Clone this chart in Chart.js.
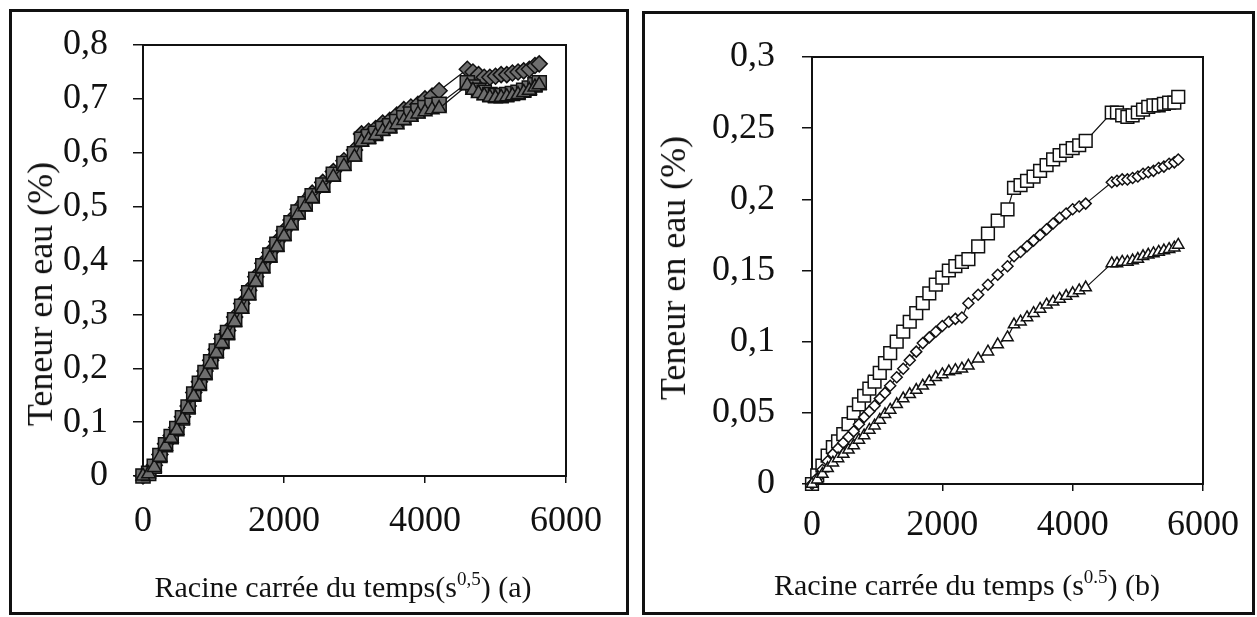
<!DOCTYPE html>
<html>
<head>
<meta charset="utf-8">
<script src="https://cdn.jsdelivr.net/npm/chart.js@4.4.1/dist/chart.umd.min.js"></script>
<style>
  body { margin: 0; background: #fff; width: 1257px; height: 617px; overflow: hidden; position: relative; font-family: 'Liberation Serif', serif; color: #111; }
  .frame { position: absolute; border: 3px solid #111; box-sizing: border-box; }
  canvas { position: absolute; top: 0; }
  .ytitle { position: absolute; font-family: 'Liberation Serif', serif; font-size: 36px; white-space: nowrap; transform: translate(-50%, -50%) rotate(-90deg); }
  .xtitle { position: absolute; font-family: 'Liberation Serif', serif; font-size: 30px; line-height: 30px; white-space: nowrap; transform: translateX(-50%); }
  .xtitle sup { font-size: 19px; line-height: 0; vertical-align: baseline; position: relative; top: -12px; }
</style>
</head>
<body>
<div class="frame" style="left:9px;top:9px;width:620px;height:606px"></div>
<div class="frame" style="left:642px;top:11px;width:613px;height:604px"></div>
<canvas id="chartA" width="628" height="617" style="left:0"></canvas>
<canvas id="chartB" width="617" height="617" style="left:640px"></canvas>
<div class="ytitle" style="left:40px;top:294px">Teneur en eau (%)</div>
<div class="ytitle" style="left:673px;top:268px">Teneur en eau (%)</div>
<div class="xtitle" style="left:343px;top:572px">Racine carrée du temps(s<sup>0,5</sup>) (a)</div>
<div class="xtitle" style="left:967px;top:570px">Racine carrée du temps (s<sup>0.5</sup>) (b)</div>
<script>
const sqrtTime = [0, 80, 160, 240, 320, 400, 480, 560, 640, 720, 800, 880, 960, 1040, 1120, 1200,
  1300, 1400, 1500, 1600, 1700, 1800, 1900, 2000, 2100, 2200, 2300, 2400, 2550, 2700, 2850, 3000,
  3100, 3200, 3300, 3400, 3500, 3600, 3700, 3800, 3900, 4000, 4100, 4200, 4600, 4680, 4760, 4840,
  4920, 5000, 5080, 5160, 5240, 5320, 5400, 5480, 5560, 5620];

// panel (a)
const aDiamond = [0, 0.005, 0.02, 0.04, 0.06, 0.075, 0.09, 0.11, 0.13, 0.155,
  0.175, 0.195, 0.215, 0.235, 0.255, 0.27, 0.295, 0.32, 0.345, 0.37,
  0.395, 0.415, 0.435, 0.455, 0.475, 0.495, 0.51, 0.525, 0.545, 0.565,
  0.585, 0.605, 0.635, 0.64, 0.645, 0.655, 0.66, 0.67, 0.68, 0.685,
  0.69, 0.7, 0.705, 0.715, 0.755, 0.75, 0.745, 0.74, 0.74, 0.742,
  0.745, 0.745, 0.748, 0.75, 0.752, 0.755, 0.762, 0.765];
const aSquare = [0, 0.005, 0.018, 0.038, 0.058, 0.073, 0.088, 0.108, 0.128, 0.152,
  0.172, 0.192, 0.212, 0.232, 0.25, 0.266, 0.29, 0.315, 0.34, 0.365,
  0.39, 0.41, 0.43, 0.45, 0.47, 0.49, 0.505, 0.52, 0.54, 0.56,
  0.58, 0.598, 0.625, 0.63, 0.636, 0.645, 0.65, 0.658, 0.665, 0.672,
  0.678, 0.684, 0.688, 0.69, 0.73, 0.722, 0.716, 0.712, 0.708, 0.706,
  0.706, 0.708, 0.71, 0.712, 0.716, 0.72, 0.726, 0.73];
const aTriangle = [0, 0.004, 0.016, 0.035, 0.055, 0.07, 0.085, 0.105, 0.125, 0.148,
  0.168, 0.188, 0.208, 0.228, 0.246, 0.262, 0.286, 0.31, 0.335, 0.36,
  0.385, 0.405, 0.425, 0.445, 0.465, 0.485, 0.5, 0.515, 0.535, 0.555,
  0.575, 0.592, 0.62, 0.625, 0.632, 0.64, 0.645, 0.652, 0.66, 0.666,
  0.672, 0.676, 0.68, 0.682, 0.725, 0.716, 0.71, 0.706, 0.703, 0.702,
  0.703, 0.704, 0.706, 0.708, 0.712, 0.716, 0.722, 0.726];

// panel (b)
const bSquare = [0, 0.006, 0.013, 0.02, 0.026, 0.03, 0.035, 0.042, 0.05, 0.056,
  0.062, 0.067, 0.072, 0.078, 0.085, 0.092, 0.1, 0.107, 0.114, 0.12,
  0.127, 0.134, 0.14, 0.145, 0.15, 0.153, 0.156, 0.158, 0.167, 0.176,
  0.185, 0.193, 0.208, 0.21, 0.213, 0.216, 0.22, 0.224, 0.228, 0.231,
  0.234, 0.236, 0.238, 0.241, 0.261, 0.261, 0.259, 0.258, 0.259, 0.261,
  0.263, 0.265, 0.266, 0.266, 0.267, 0.268, 0.268, 0.272];
const bDiamond = [0, 0.004, 0.01, 0.016, 0.021, 0.025, 0.029, 0.033, 0.037, 0.042,
  0.047, 0.051, 0.055, 0.06, 0.064, 0.069, 0.075, 0.081, 0.087, 0.093,
  0.099, 0.103, 0.107, 0.111, 0.114, 0.116, 0.117, 0.127, 0.133, 0.14,
  0.147, 0.153, 0.16, 0.163, 0.167, 0.171, 0.175, 0.179, 0.183, 0.187,
  0.19, 0.193, 0.195, 0.197, 0.212, 0.213, 0.214, 0.214, 0.215, 0.216,
  0.218, 0.219, 0.22, 0.222, 0.223, 0.225, 0.226, 0.228];
const bTriangle = [0, 0.003, 0.007, 0.011, 0.015, 0.018, 0.021, 0.024, 0.027, 0.031,
  0.034, 0.038, 0.041, 0.045, 0.049, 0.052, 0.056, 0.06, 0.063, 0.066,
  0.069, 0.072, 0.075, 0.077, 0.079, 0.08, 0.081, 0.083, 0.088, 0.093,
  0.098, 0.103, 0.112, 0.114, 0.117, 0.12, 0.123, 0.126, 0.128, 0.13,
  0.132, 0.134, 0.136, 0.138, 0.155, 0.155, 0.156, 0.156, 0.157, 0.158,
  0.16, 0.161, 0.162, 0.163, 0.164, 0.165, 0.166, 0.168];

const xTickValues = [0, 2000, 4000, 6000];
const xTickLabels = ['0', '2000', '4000', '6000'];
const yTickValuesA = [0, 0.1, 0.2, 0.3, 0.4, 0.5, 0.6, 0.7, 0.8];
const yTickLabelsA = ['0', '0,1', '0,2', '0,3', '0,4', '0,5', '0,6', '0,7', '0,8'];
const yTickValuesB = [0, 0.05, 0.1, 0.15, 0.2, 0.25, 0.3];
const yTickLabelsB = ['0', '0,05', '0,1', '0,15', '0,2', '0,25', '0,3'];

const INK = '#111';
const tickFont = { family: 'Liberation Serif', size: 36 };

const plotFrame = {
  id: 'plotFrame',
  beforeDatasetsDraw(chart) {
    const { ctx, chartArea: a } = chart;
    ctx.save();
    ctx.strokeStyle = INK;
    ctx.lineWidth = 2;
    ctx.strokeRect(a.left, a.top, a.right - a.left, a.bottom - a.top);
    ctx.restore();
  }
};

function series(values, style, radius, fill) {
  return {
    data: values.map((v, i) => ({ x: sqrtTime[i], y: v })),
    borderColor: INK,
    borderWidth: 1.2,
    pointStyle: style,
    pointRadius: radius,
    pointBorderColor: INK,
    pointBorderWidth: 1.5,
    pointBackgroundColor: fill,
    clip: false
  };
}

function buildPanel(canvasId, datasets, yMax, yValues, yLabels, box) {
  const ctx = document.getElementById(canvasId).getContext('2d');
  return new Chart(ctx, {
    type: 'line',
    data: { datasets },
    options: {
      responsive: false,
      animation: false,
      devicePixelRatio: 1,
      layout: { padding: { left: 0, top: box.top, right: box.right, bottom: 0 } },
      plugins: { legend: { display: false }, tooltip: { enabled: false } },
      scales: {
        x: {
          type: 'linear',
          min: 0,
          max: 6000,
          afterBuildTicks: s => { s.ticks = xTickValues.map(v => ({ value: v })); },
          afterFit: s => { s.height = box.xHeight; s.paddingLeft = 0; s.paddingRight = 0; },
          ticks: { font: tickFont, color: INK, padding: box.xPad, maxRotation: 0,
                   callback: (v, i) => xTickLabels[i] },
          grid: { drawOnChartArea: false, tickLength: 7, color: INK, lineWidth: 1.5 },
          border: { display: false }
        },
        y: {
          min: 0,
          max: yMax,
          afterBuildTicks: s => { s.ticks = yValues.map(v => ({ value: v })); },
          afterFit: s => { s.width = box.yWidth; s.paddingTop = 0; s.paddingBottom = 0; },
          ticks: { font: tickFont, color: INK, padding: box.yPad,
                   callback: (v, i) => yLabels[i] },
          grid: { drawOnChartArea: false, tickLength: 10, color: INK, lineWidth: 1.5 },
          border: { display: false }
        }
      }
    },
    plugins: [plotFrame]
  });
}

const fillA = '#6e6e6e';
buildPanel('chartA', [
  series(aTriangle, 'triangle', 8, fillA),
  series(aSquare, 'rect', 10, fillA),
  series(aDiamond, 'rectRot', 8, fillA)
], 0.8, yTickValuesA, yTickLabelsA,
  { top: 45, right: 62, xHeight: 141, yWidth: 143, xPad: 17, yPad: 25 });

buildPanel('chartB', [
  series(bTriangle, 'triangle', 6.5, '#fff'),
  series(bDiamond, 'rectRot', 5.5, '#fff'),
  series(bSquare, 'rect', 9, '#fff')
], 0.3, yTickValuesB, yTickLabelsB,
  { top: 57, right: 54, xHeight: 133, yWidth: 172, xPad: 13, yPad: 27 });
</script>
</body>
</html>
